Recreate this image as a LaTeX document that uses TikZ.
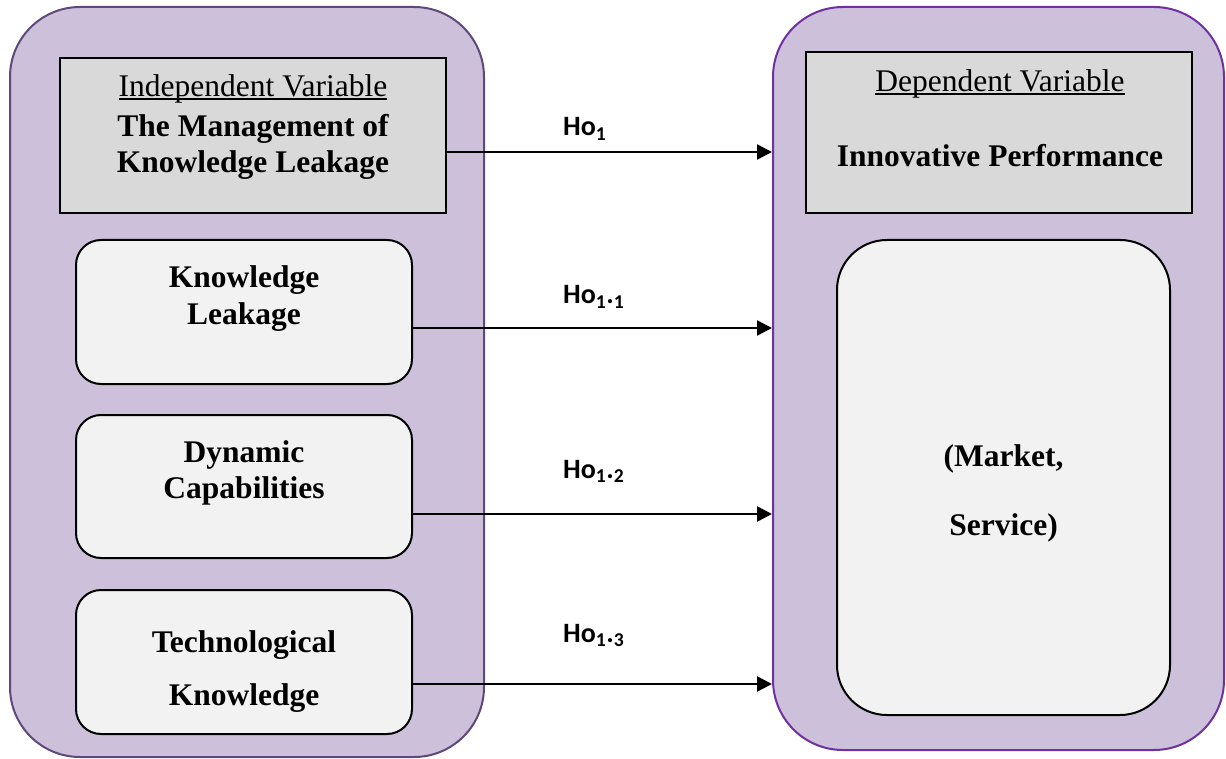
\documentclass[tikz,border=0pt]{standalone}
\usepackage{fontspec}
\setmainfont{Liberation Serif}
\newfontfamily\labfont{Carlito}
\usetikzlibrary{arrows.meta}
\definecolor{outerfill}{HTML}{CCC0DA}
\definecolor{leftborder}{HTML}{5F497A}
\definecolor{rightborder}{HTML}{7030A0}
\definecolor{grayfill}{HTML}{D9D9D9}
\definecolor{lightfill}{HTML}{F2F2F2}
\newcommand\myul[1]{\setbox0\hbox{#1}\rlap{\rule[-3.2pt]{\wd0}{1.8pt}}\box0}
\tikzset{
  outerbox/.style={draw, line width=2pt, fill=outerfill, rounded corners=70pt, inner sep=0pt},
  headbox/.style={draw=black, line width=2pt, fill=grayfill, inner sep=0pt},
  itembox/.style={draw=black, line width=2pt, fill=lightfill, rounded corners=25pt, inner sep=0pt},
  txt/.style={anchor=base, inner sep=0pt, font=\fontsize{31.5}{35}\selectfont},
  btxt/.style={txt, font=\fontsize{31.5}{35}\selectfont\bfseries},
  hyp/.style={anchor=base west, inner sep=0pt, font=\fontsize{28}{32}\selectfont\labfont\bfseries},
  arr/.style={line width=2.5pt, -{Triangle[length=15pt,width=15pt]}}
}
\begin{document}
\begin{tikzpicture}[x=1pt,y=-1pt]
\useasboundingbox (0,0) rectangle (1226,759);
% outer containers
\node[outerbox, draw=leftborder, minimum width=474pt, minimum height=750pt] (L) at (247,382) {};
\node[outerbox, draw=rightborder, minimum width=451pt, minimum height=743pt] (R) at (998.5,378.5) {};
% left boxes
\node[headbox, minimum width=386pt, minimum height=155pt] (iv) at (253,135.5) {};
\node[itembox, minimum width=336pt, minimum height=144pt] (kl) at (244,312) {};
\node[itembox, minimum width=336pt, minimum height=143pt] (dc) at (244,486.5) {};
\node[itembox, minimum width=336pt, minimum height=144pt] (tk) at (244,662) {};
% right boxes
\node[headbox, minimum width=386pt, minimum height=161pt] (dv) at (999,132.5) {};
\node[itembox, rounded corners=50pt, minimum width=333pt, minimum height=475pt] (ip) at (1003.5,477.5) {};
% texts
\node[txt] (ivA) at (253,97) {\myul{Independent Variable}};
\node[btxt] (ivB) at (253,137) {The Management of};
\node[btxt] (ivC) at (253,173) {Knowledge Leakage};
\node[btxt] (klA) at (244,288) {Knowledge};
\node[btxt] (klB) at (244,324) {Leakage};
\node[btxt] (dcA) at (244,462) {Dynamic};
\node[btxt] (dcB) at (244,498) {Capabilities};
\node[btxt] (tkA) at (244,652) {Technological};
\node[btxt] (tkB) at (244,705) {Knowledge};
\node[txt] (dvA) at (1000,92) {\myul{Dependent Variable}};
\node[btxt] (dvB) at (1000,167) {Innovative Performance};
\node[btxt] (ipA) at (1003.5,466) {(Market,};
\node[btxt] (ipB) at (1003.5,535) {Service)};
% arrows
\draw[arr] (iv.east |- 0,152) -- (R.west |- 0,152);
\draw[arr] (kl.east |- 0,328) -- (R.west |- 0,328);
\draw[arr] (dc.east |- 0,514) -- (R.west |- 0,514);
\draw[arr] (tk.east |- 0,684) -- (R.west |- 0,684);
% hypothesis labels
\node[hyp] (h0) at (563,136) {Ho\textsubscript{1}};
\node[hyp] (h1) at (563,304) {Ho\textsubscript{1}.\textsubscript{1}};
\node[hyp] (h2) at (563,478) {Ho\textsubscript{1}.\textsubscript{2}};
\node[hyp] (h3) at (563,642) {Ho\textsubscript{1}.\textsubscript{3}};
\end{tikzpicture}
\end{document}
